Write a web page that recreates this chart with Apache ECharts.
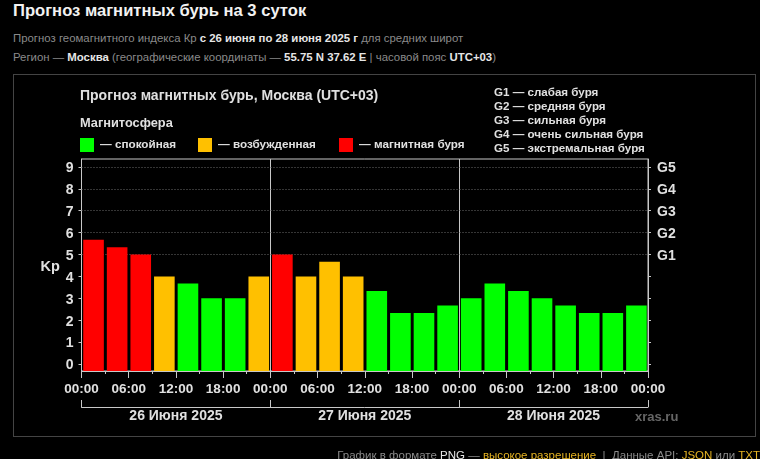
<!DOCTYPE html>
<html>
<head>
<meta charset="utf-8">
<script src="https://cdn.jsdelivr.net/npm/echarts@6/dist/echarts.min.js"></script>
<style>
html,body{margin:0;padding:0;width:760px;height:459px;overflow:hidden;background:#000;font-family:"Liberation Sans",Arial,sans-serif;}
#head1{position:absolute;left:13px;top:0;font-size:16.6px;line-height:22px;font-weight:bold;color:#f2f2f2;white-space:nowrap;}
.sub{position:absolute;left:13px;font-size:11.4px;line-height:14px;color:#8a8a8a;white-space:nowrap;}
.sub b{color:#e6e6e6;}
#box{position:absolute;left:13px;top:74px;width:741px;height:361px;border:1px solid #444;}
#chart{position:absolute;left:0;top:0;width:760px;height:459px;}
#foot{position:absolute;right:0;top:448px;font-size:11.5px;line-height:14px;color:#8a8a8a;white-space:nowrap;}
#foot b{font-weight:normal;color:#e6e6e6;}
#foot i{font-style:normal;color:#e6b422;}
</style>
</head>
<body>
<div id="head1">Прогноз магнитных бурь на 3 суток</div>
<div class="sub" style="top:31px">Прогноз геомагнитного индекса Кр <b>с 26 июня по 28 июня 2025 г</b> для средних широт</div>
<div class="sub" style="top:50px">Регион — <b>Москва</b> (географические координаты — <b>55.75 N 37.62 E</b> | часовой пояс <b>UTC+03</b>)</div>
<div id="box"></div>
<div id="chart"></div>
<div id="foot">График в формате <b>PNG</b> — <i>высокое разрешение</i> &nbsp;|&nbsp; Данные API: <i>JSON</i> или <i>TXT</i></div>
<script>
var hours = [0,3,6,9,12,15,18,21,24,27,30,33,36,39,42,45,48,51,54,57,60,63,66,69];
var kp = [5.67,5.33,5,4,3.67,3,3,4, 5,4,4.67,4,3.33,2.33,2.33,2.67, 3,3.67,3.33,3,2.67,2.33,2.33,2.67];
var days = ['26 Июня 2025','27 Июня 2025','28 Июня 2025'];
var kpTicks = [0,1,2,3,4,5,6,7,8,9];
var gTicks = [5,6,7,8,9];
var gLabels = ['G1','G2','G3','G4','G5'];
var legendNames = ['— спокойная','— возбужденная','— магнитная буря'];
var gNotes = ['G1 — слабая буря','G2 — средняя буря','G3 — сильная буря','G4 — очень сильная буря','G5 — экстремальная буря'];

var GREEN='#00ff00', AMBER='#ffc000', RED='#ff0000';
var TXT='#e0e0e0', LINE='#c8c8c8';
var yMin=-0.32, yMax=9.36;

function kpColor(v){
	if(v>=5) return RED;
	if(v>=4) return AMBER;
	return GREEN;
}

var barData=[];
for(var i=0;i<hours.length;i++){
	barData.push([hours[i],kp[i]]);
}

var graphics=[];
graphics.push({type:'text',left:80,top:89,style:{text:'Прогноз магнитных бурь, Москва (UTC+03)',fill:TXT,font:'bold 14px "Liberation Sans"'}});
graphics.push({type:'text',left:80,top:117,style:{text:'Магнитосфера',fill:TXT,font:'bold 12.8px "Liberation Sans"'}});
var legX=[80,198,339], legC=[GREEN,AMBER,RED];
for(var j=0;j<3;j++){
	graphics.push({type:'rect',shape:{x:legX[j],y:138,width:14,height:14},style:{fill:legC[j]}});
	graphics.push({type:'text',left:legX[j]+20,top:139,style:{text:legendNames[j],fill:TXT,font:'bold 11.7px "Liberation Sans"'}});
}
for(var k=0;k<gNotes.length;k++){
	graphics.push({type:'text',left:494,top:86.5+k*14,style:{text:gNotes[k],fill:TXT,font:'bold 11.6px "Liberation Sans"'}});
}
graphics.push({type:'text',left:635,top:411,style:{text:'xras.ru',fill:'#666',font:'bold 13px "Liberation Sans"'}});

var chart=echarts.init(document.getElementById('chart'));
chart.setOption({
	animation:false,
	backgroundColor:'transparent',
	graphic:graphics,
	grid:{left:81.5,right:112,top:159,bottom:88,show:true,borderColor:LINE,borderWidth:1,backgroundColor:'transparent'},
	xAxis:[{
		type:'value',min:0,max:72,interval:6,position:'bottom',
		axisLine:{show:true,onZero:false,lineStyle:{color:LINE}},
		axisTick:{show:true,length:7,lineStyle:{color:LINE}},
		minorTick:{show:true,splitNumber:2,length:3,lineStyle:{color:LINE}},
		splitLine:{show:false},
		axisLabel:{show:true,color:TXT,fontWeight:'bold',fontSize:13.5,margin:11,
			showMinLabel:true,showMaxLabel:true,hideOverlap:false,
			formatter:function(v){
				var h=v%24;
				return (h<10?'0':'')+h+':00';
			}}
	},{
		type:'category',data:days,position:'bottom',offset:36,
		axisLine:{show:true,onZero:false,lineStyle:{color:LINE}},
		axisTick:{show:true,inside:true,length:7,lineStyle:{color:LINE}},
		splitLine:{show:true,lineStyle:{color:LINE,width:1}},
		axisLabel:{color:TXT,fontWeight:'bold',fontSize:14,margin:2}
	}],
	yAxis:[{
		type:'value',min:yMin,max:yMax,position:'left',
		name:'Kp',nameLocation:'middle',nameGap:21,nameRotate:0,
		nameTextStyle:{color:TXT,fontWeight:'bold',fontSize:14.5,verticalAlign:'top',lineHeight:4},
		axisLine:{show:true,onZero:false,lineStyle:{color:LINE}},
		axisTick:{show:true,length:3,lineStyle:{color:LINE},customValues:kpTicks},
		splitLine:{show:false},
		axisLabel:{color:TXT,fontWeight:'bold',fontSize:14,margin:8,verticalAlign:'top',lineHeight:3,customValues:kpTicks}
	},{
		type:'value',min:yMin,max:yMax,position:'right',
		axisLine:{show:true,onZero:false,lineStyle:{color:LINE}},
		axisTick:{show:true,length:3,lineStyle:{color:LINE},customValues:kpTicks},
		splitLine:{show:false},
		axisLabel:{color:TXT,fontWeight:'bold',fontSize:14,margin:9,verticalAlign:'top',lineHeight:3,customValues:gTicks,
			formatter:function(v){
				return gLabels[gTicks.indexOf(v)];
			}}
	}],
	series:[{
		type:'custom',
		xAxisIndex:0,yAxisIndex:0,
		data:barData,
		encode:{x:0,y:1},
		z:3,
		renderItem:function(params,api){
			var h=api.value(0), v=api.value(1);
			var a=api.coord([h+0.22,v]);
			var b=api.coord([h+2.84,yMin]);
			return {type:'rect',shape:{x:a[0],y:a[1],width:b[0]-a[0],height:b[1]-a[1]},style:{fill:kpColor(v)}};
		}
	},{
		// пунктирные уровни G1-G5
		type:'line',
		xAxisIndex:0,yAxisIndex:0,
		data:[],
		silent:true,
		markLine:{
			silent:true,symbol:'none',label:{show:false},z:1,
			lineStyle:{color:'#6a6a6a',type:[1,2],width:1},
			data:gTicks.map(function(v){return {yAxis:v};})
		}
	}]
});
</script>
</body>
</html>
